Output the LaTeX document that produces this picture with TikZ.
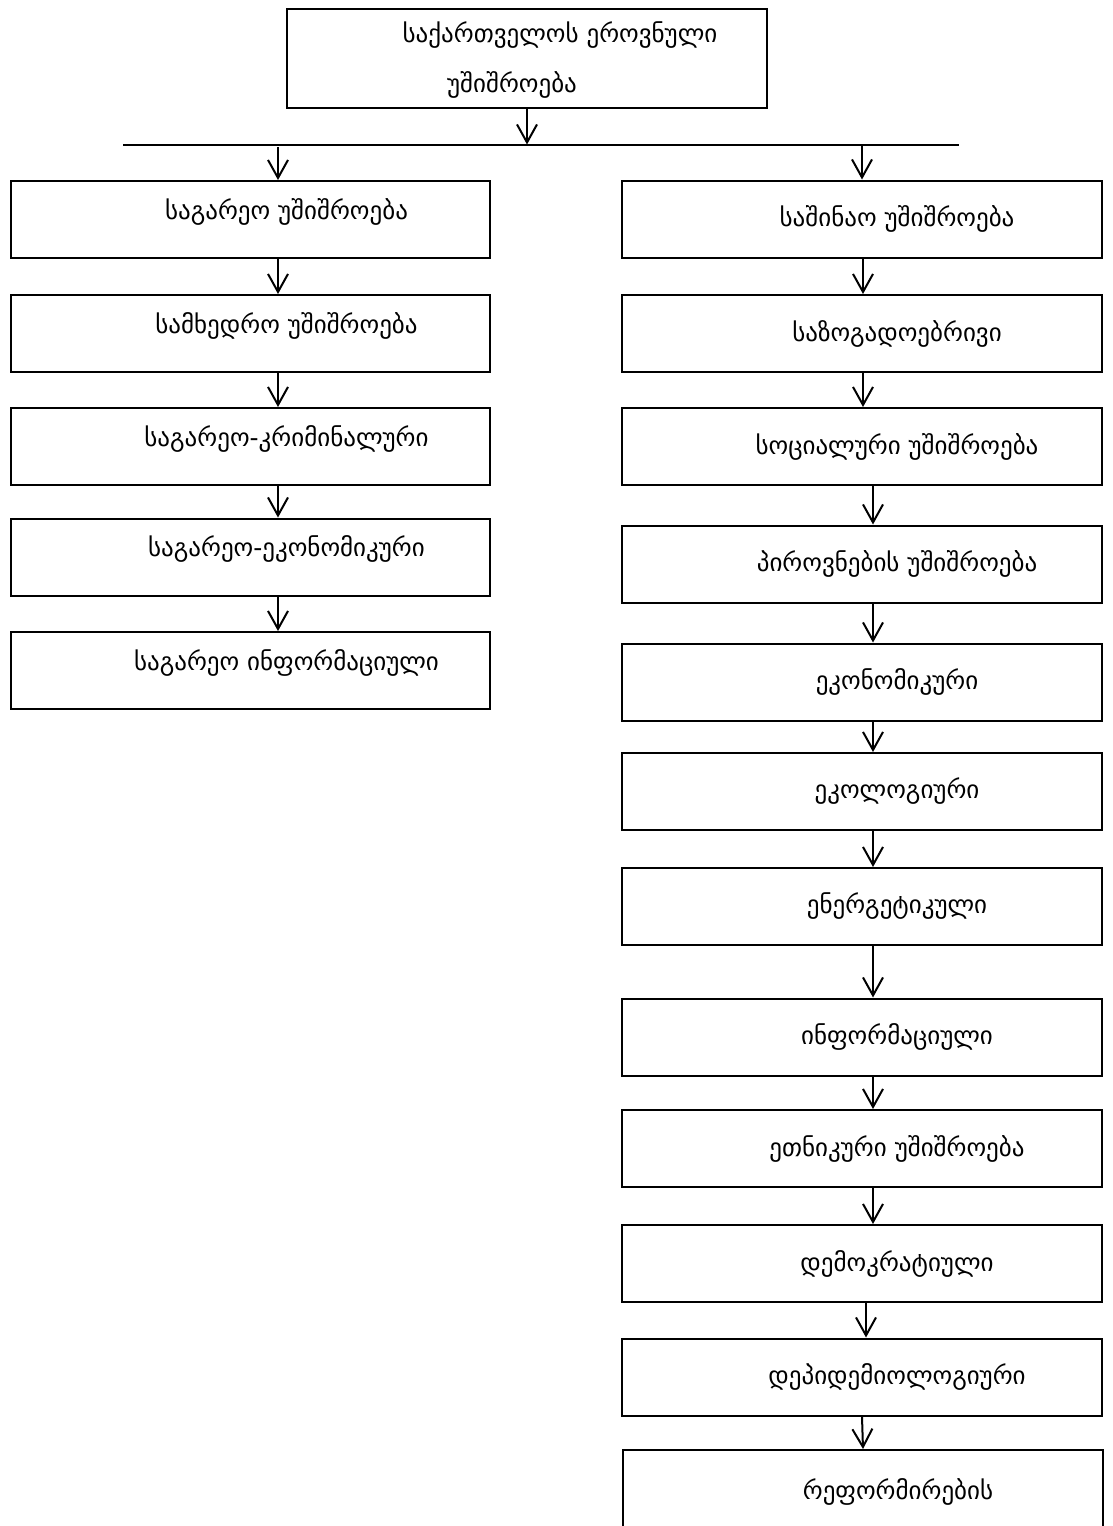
\documentclass[tikz,border=0pt]{standalone}
\usepackage{fontspec}
\setmainfont{DejaVu Sans}
\usetikzlibrary{arrows.meta}
\begin{document}
\begin{tikzpicture}[x=1pt,y=-1pt,
  box/.style={draw, line width=2pt, minimum width=479pt, minimum height=77pt, inner sep=0pt},
  rtxt/.style={font=\fontsize{25}{28}\selectfont},
  arr/.style={line width=2pt, -{Straight Barb[length=18pt,width=20pt,line width=2pt]}},
  bar/.style={line width=2pt}]
\useasboundingbox (0,0) rectangle (1112,1526);
\clip (0,0) rectangle (1112,1526);

% root
\node[box, minimum width=480pt, minimum height=99pt] (root) at (527,58.5) {};
\node[rtxt] (roott1) at (560,35) {საქართველოს ეროვნული};
\node[rtxt] (roott2) at (512,85) {უშიშროება};

% distribution bar
\coordinate (barL) at (123,144.5);
\coordinate (barR) at (959,144.5);
\draw[bar] (barL) -- (barR);
\coordinate (barM) at (527,144.5);
\coordinate (barA) at (278,147);
\coordinate (barB) at (862,144.5);
\draw[arr] (root.south) -- (barM);

% external column
\foreach \n/\y/\t in {l1/219.5/საგარეო უშიშროება,
                      l2/333.5/სამხედრო უშიშროება,
                      l3/446.5/საგარეო-კრიმინალური,
                      l4/557/საგარეო-ეკონომიკური,
                      l5/670.5/საგარეო ინფორმაციული}
  \node[box, label={[rtxt, xshift=36pt, yshift=8pt]center:\t}] (\n) at (250.5,\y) {};

\draw[arr] (barA) -- ([xshift=27.5pt]l1.north);
\draw[arr] ([xshift=27.5pt]l1.south) -- ([xshift=27.5pt]l2.north);
\draw[arr] ([xshift=27.5pt]l2.south) -- ([xshift=27.5pt]l3.north);
\draw[arr] ([xshift=27.5pt]l3.south) -- ([xshift=27.5pt]l4.north);
\draw[arr] ([xshift=27.5pt]l4.south) -- ([xshift=27.5pt]l5.north);

% internal column
\foreach \n/\y/\t in {r1/219/საშინაო უშიშროება,
                      r2/333.5/საზოგადოებრივი,
                      r3/446.5/სოციალური უშიშროება,
                      r4/564/პიროვნების უშიშროება,
                      r5/682/ეკონომიკური,
                      r6/791.5/ეკოლოგიური,
                      r7/906.5/ენერგეტიკული,
                      r8/1037/ინფორმაციული,
                      r9/1148.5/ეთნიკური უშიშროება,
                      r10/1263.5/დემოკრატიული,
                      r11/1377/დეპიდემიოლოგიური}
  \node[box, minimum width=480pt, label={[rtxt, xshift=35pt]center:\t}] (\n) at (862,\y) {};
\node[box, minimum width=480pt, label={[rtxt, xshift=35pt, yshift=-3pt]center:რეფორმირების}] (r12) at (863,1488.5) {};

\draw[arr] (barB) -- (r1.north);
\draw[arr] ([xshift=1pt]r1.south) -- ([xshift=1pt]r2.north);
\draw[arr] ([xshift=1pt]r2.south) -- ([xshift=1pt]r3.north);
\foreach \a/\b in {r3/r4,r4/r5,r5/r6,r6/r7,r7/r8,r8/r9,r9/r10}
  \draw[arr] ([xshift=11pt]\a.south) -- ([xshift=11pt]\b.north);
\draw[arr] ([xshift=4pt]r10.south) -- ([xshift=4pt]r11.north);
\draw[arr] ([xshift=0pt]r11.south) -- ([xshift=0pt]r12.north);
\end{tikzpicture}
\end{document}
